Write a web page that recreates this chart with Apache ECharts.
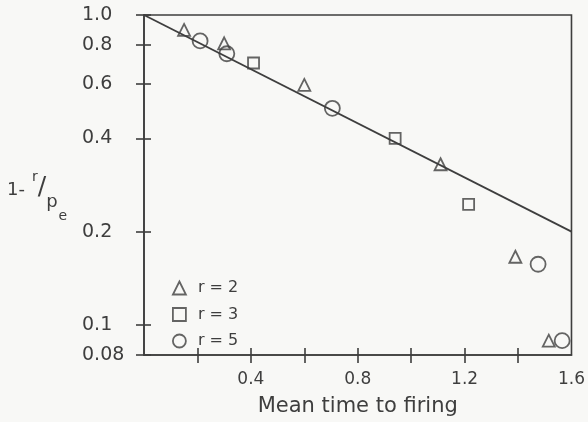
<!DOCTYPE html>
<html>
<head>
<meta charset="utf-8">
<script src="https://cdn.jsdelivr.net/npm/echarts@6/dist/echarts.min.js"></script>
<style>
html,body{margin:0;padding:0;background:#f8f8f6;}
#c{width:588px;height:422px;}
</style>
</head>
<body>
<div id="c"></div>
<script>
// Data
const r2X = [0.15, 0.30, 0.60, 1.11, 1.39, 1.515];
const r2Y = [0.895, 0.81, 0.595, 0.33, 0.166, 0.089];
const r3X = [0.41, 0.94, 1.215];
const r3Y = [0.70, 0.40, 0.245];
const r5X = [0.21, 0.31, 0.705, 1.475, 1.565];
const r5Y = [0.825, 0.75, 0.50, 0.157, 0.089];
const fitX = [0, 1.6];
const fitY = [1.0, 0.2];
const yTicks = [0.08, 0.1, 0.2, 0.4, 0.6, 0.8, 1.0];
const xTicks = [0.2, 0.4, 0.6, 0.8, 1.0, 1.2, 1.4];
const xLabels = [0.4, 0.8, 1.2, 1.6];

const ink = '#3e3e3e';
const font = 'DejaVu Sans';
const zip = (xs, ys) => xs.map((x, i) => [x, ys[i]]);
const hollow = {color: 'rgba(0,0,0,0)', borderColor: ink, borderWidth: 1.8};
const tickStyle = {color: ink, width: 1.6};

const chart = echarts.init(document.getElementById('c'));
chart.setOption({
  animation: false,
  backgroundColor: '#f8f8f6',
  textStyle: {fontFamily: font, color: ink},
  grid: {left: 144, right: 12, top: 15, bottom: 65, show: true, borderColor: ink, borderWidth: 1.6, backgroundColor: 'transparent'},
  legend: {
    orient: 'vertical', left: 167, top: 275, itemGap: 10.5, itemWidth: 13, itemHeight: 13,
    itemStyle: {borderWidth: 1.8},
    textStyle: {fontFamily: font, fontSize: 16, color: ink, padding: [0, 0, 0, 7]},
    data: ['r = 2', 'r = 3', 'r = 5']
  },
  graphic: [{
    type: 'text', left: 7, top: 170, silent: true,
    style: {
      text: '{a|1-}{sup|r}{sl|/}{p|p}{sub|e}',
      rich: {
        a: {fontFamily: font, fontSize: 18, fill: ink, verticalAlign: 'bottom', padding: [0, 3, 24, 0]},
        sup: {fontFamily: font, fontSize: 14, fill: ink, verticalAlign: 'bottom', padding: [0, 0, 39, 4]},
        sl: {fontFamily: font, fontSize: 25, fill: ink, verticalAlign: 'bottom', padding: [0, 0, 23, 0]},
        p: {fontFamily: font, fontSize: 18, fill: ink, verticalAlign: 'bottom', padding: [0, 0, 12, 0]},
        sub: {fontFamily: font, fontSize: 14, fill: ink, verticalAlign: 'bottom', padding: [0, 0, 0, 1]}
      }
    }
  }],
  xAxis: [{
    type: 'value', min: 0, max: 1.6,
    axisLine: {lineStyle: {color: ink, width: 1.6}},
    axisTick: {show: true, length: 8, customValues: xTicks, lineStyle: tickStyle},
    splitLine: {show: false},
    axisLabel: {fontFamily: font, fontSize: 17, color: ink, margin: 16, customValues: xLabels,
      formatter: v => v.toFixed(1)},
    name: 'Mean time to firing', nameLocation: 'middle', nameGap: 41,
    nameTextStyle: {fontFamily: font, fontSize: 21, color: ink}
  }, {
    type: 'value', min: 0, max: 1.6, position: 'bottom',
    axisLine: {show: false},
    axisTick: {show: true, inside: true, length: 7, customValues: xTicks, lineStyle: tickStyle},
    axisLabel: {show: false}, splitLine: {show: false}
  }],
  yAxis: [{
    type: 'log', logBase: 10, min: 0.08, max: 1,
    axisLine: {show: true, lineStyle: {color: ink, width: 1.6}},
    axisTick: {show: true, length: 8, customValues: yTicks, lineStyle: tickStyle},
    minorTick: {show: false}, splitLine: {show: false},
    axisLabel: {fontFamily: font, fontSize: 19, color: ink, margin: 62, align: 'left', customValues: yTicks,
      formatter: v => (Math.abs(v - 1) < 1e-9 ? '1.0' : String(+v.toPrecision(3)))}
  }, {
    type: 'log', logBase: 10, min: 0.08, max: 1, position: 'left',
    axisLine: {show: false},
    axisTick: {show: true, inside: true, length: 7, customValues: yTicks, lineStyle: tickStyle},
    axisLabel: {show: false}, splitLine: {show: false}, minorTick: {show: false}
  }],
  series: [
    {name: 'fit', type: 'line', data: zip(fitX, fitY), showSymbol: false, symbol: 'none',
     lineStyle: {color: ink, width: 1.8}, z: 1, silent: true},
    {name: 'r = 2', type: 'scatter', data: zip(r2X, r2Y), symbol: 'triangle', symbolSize: 12, itemStyle: hollow, z: 3},
    {name: 'r = 3', type: 'scatter', data: zip(r3X, r3Y), symbol: 'rect', symbolSize: 11, itemStyle: hollow, z: 3},
    {name: 'r = 5', type: 'scatter', data: zip(r5X, r5Y), symbol: 'circle', symbolSize: 15, itemStyle: hollow, z: 3}
  ]
});
</script>
</body>
</html>
